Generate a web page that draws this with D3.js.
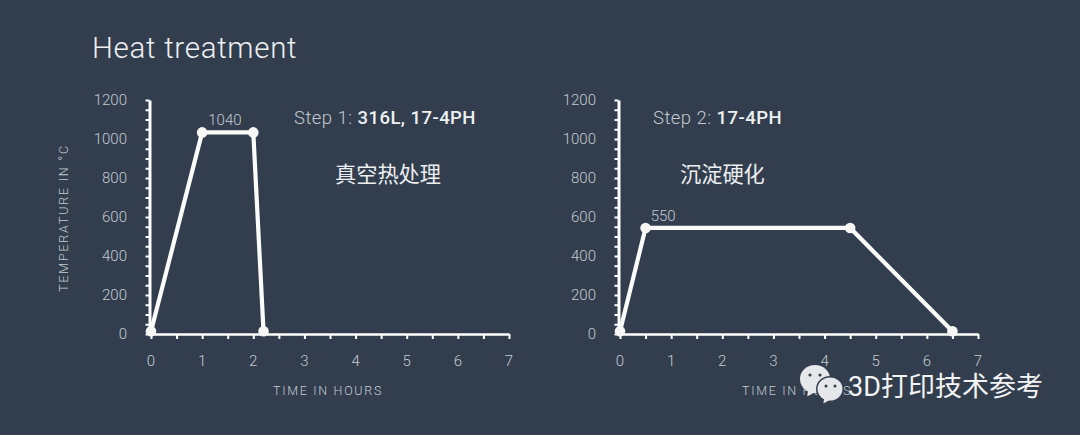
<!DOCTYPE html>
<html><head><meta charset="utf-8">
<script src="https://cdn.jsdelivr.net/npm/d3@7"></script>
<style>
html,body{margin:0;padding:0;background:#323e4e;overflow:hidden}
svg{display:block}
text{font-family:Roboto,"Noto Sans CJK SC",sans-serif}
</style></head><body>
<svg id="c" width="1080" height="435"></svg>
<script>
const titleText = "Heat treatment";
const yTicks = [0,200,400,600,800,1000,1200];
const xTicks = [0,1,2,3,4,5,6,7];
const step1Hours = [0,1,2,2.2];
const step1Temps = [20,1040,1040,20];
const step2Hours = [0,0.5,4.5,6.5];
const step2Temps = [20,550,550,20];
const step1Label = ["Step 1: ","316L, 17-4PH"];
const step2Label = ["Step 2: ","17-4PH"];
const step1Cn = "真空热处理";
const step2Cn = "沉淀硬化";
const yTitle = "TEMPERATURE IN °C";
const xTitle = "TIME IN HOURS";
const watermark = "3D打印技术参考";

const svg = d3.select("#c");
const grey = "#c3c9cf";
svg.append("text").attr("x",92).attr("y",58).attr("font-size",29.5).attr("font-weight",300)
  .attr("letter-spacing",0.7).attr("fill","#eef0f2").text(titleText);

function panel(o){
  const x = d3.scaleLinear().domain([0,7]).range([o.x0,o.x0+358]);
  const y = d3.scaleLinear().domain([0,1200]).range([334,100]);
  const g = svg.append("g");
  const ay = g.append("g").attr("transform",`translate(${o.x0-1.5},0)`)
    .call(d3.axisLeft(y).tickValues(d3.range(0,1201,50)).tickSize(4).tickSizeOuter(0).tickFormat(""));
  ay.selectAll("path").attr("stroke","#fff").attr("stroke-width",3);
  ay.selectAll("line").attr("stroke","#fff").attr("stroke-width",2);
  const ax = g.append("g").attr("transform","translate(0,334)")
    .call(d3.axisBottom(x).tickValues(d3.range(0,7.01,0.5)).tickSize(5).tickSizeOuter(0).tickFormat(""));
  ax.selectAll("path").attr("stroke","#fff").attr("stroke-width",2.4);
  ax.selectAll("line").attr("stroke","#fff").attr("stroke-width",2);
  g.selectAll(".yl").data(yTicks).join("text").attr("class","yl")
    .attr("x",o.x0-24).attr("y",d=>y(d)+4.8).attr("text-anchor","end")
    .attr("font-size",15).attr("font-weight",300).attr("fill",grey).text(d=>d);
  g.selectAll(".xl").data(xTicks).join("text").attr("class","xl")
    .attr("x",d=>x(d)).attr("y",366).attr("text-anchor","middle")
    .attr("font-size",15).attr("font-weight",300).attr("fill",grey).text(d=>d);
  g.append("text").attr("x",o.x0+177).attr("y",395).attr("text-anchor","middle")
    .attr("font-size",12.5).attr("font-weight",300).attr("letter-spacing",1.7).attr("fill",grey).text(xTitle);
  if(o.showY){
    g.append("text").attr("transform",`translate(68,218) rotate(-90)`).attr("text-anchor","middle")
      .attr("font-size",12.5).attr("font-weight",300).attr("letter-spacing",1.8).attr("fill",grey).text(yTitle);
  }
  const pts = o.hours.map((h,i)=>[h,o.temps[i]]);
  const line = d3.line().x(d=>x(d[0])).y(d=>y(d[1]));
  const marks = g.append("g").attr("transform","translate(0,1.2)");
  marks.append("path").attr("d",line(pts)).attr("fill","none").attr("stroke","#fbfbf9").attr("stroke-width",4.2);
  marks.selectAll("circle").data(pts).join("circle").attr("cx",d=>x(d[0])).attr("cy",d=>y(d[1]))
    .attr("r",5.3).attr("fill","#f7f8f6");
  g.append("text").attr("x",x(o.peakX)).attr("y",y(o.peakY)-6).attr("font-size",15).attr("font-weight",300)
    .attr("fill",grey).text(o.peakText);
  const t = g.append("text").attr("x",o.lblX).attr("y",124).attr("font-size",18.5).attr("letter-spacing",0.45);
  t.append("tspan").attr("font-weight",300).attr("fill",grey).text(o.label[0]);
  t.append("tspan").attr("font-weight",500).attr("fill","#eef0f2").text(o.label[1]);
  g.append("text").attr("x",o.cnX).attr("y",182).attr("font-size",21.2)
    .attr("fill","#eceef0").text(o.cn);
}
panel({x0:151,hours:step1Hours,temps:step1Temps,peakText:step1Temps[1],peakX:1.12,peakY:step1Temps[1],
  label:step1Label,lblX:294,cn:step1Cn,cnX:335,showY:true});
panel({x0:620,hours:step2Hours,temps:step2Temps,peakText:step2Temps[1],peakX:0.6,peakY:step2Temps[1],
  label:step2Label,lblX:653,cn:step2Cn,cnX:680,showY:false});

const wm = svg.append("g");
const bubble = (cx,cy,rx,ry,fill)=>{
  wm.append("ellipse").attr("cx",cx).attr("cy",cy).attr("rx",rx).attr("ry",ry).attr("fill",fill);
  wm.append("path").attr("d",`M${cx-rx*0.45},${cy+ry*0.7}l-1,${ry*0.55}l${rx*0.5},-${ry*0.3}z`).attr("fill",fill);
};
bubble(815,379,15,14,"#e6e7ea");
wm.append("circle").attr("cx",810).attr("cy",375).attr("r",1.6).attr("fill","#323e4e");
wm.append("circle").attr("cx",820).attr("cy",375).attr("r",1.6).attr("fill","#323e4e");
wm.append("ellipse").attr("cx",830).attr("cy",389).attr("rx",14).attr("ry",13).attr("fill","#323e4e");
bubble(830,389,12.5,11.5,"#e6e7ea");
wm.append("circle").attr("cx",826).attr("cy",386).attr("r",1.5).attr("fill","#323e4e");
wm.append("circle").attr("cx",835).attr("cy",386).attr("r",1.5).attr("fill","#323e4e");
svg.append("text").attr("x",848).attr("y",396).attr("font-size",27).attr("fill","#f2f3f4").text(watermark);
</script>
</body></html>
